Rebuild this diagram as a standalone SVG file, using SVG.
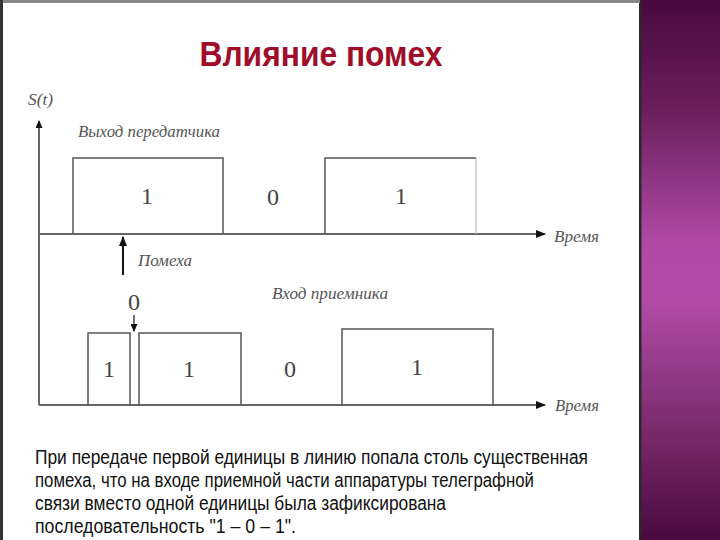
<svg xmlns="http://www.w3.org/2000/svg" width="720" height="540" viewBox="0 0 720 540">
<defs>
<linearGradient id="purp" x1="0" y1="0" x2="0" y2="1">
<stop offset="0" stop-color="#4a0a3e"/>
<stop offset="0.2" stop-color="#6a1e5c"/>
<stop offset="0.45" stop-color="#b04aa6"/>
<stop offset="0.55" stop-color="#b24ca8"/>
<stop offset="0.8" stop-color="#7a2a6c"/>
<stop offset="1" stop-color="#4a0a3e"/>
</linearGradient>
<marker id="ah" markerWidth="10" markerHeight="8" refX="9" refY="4" orient="auto" markerUnits="userSpaceOnUse">
<path d="M0,0 L10,4 L0,8 Z" fill="#111"/>
</marker>
<marker id="ahs" markerWidth="8" markerHeight="7" refX="7" refY="3.5" orient="auto" markerUnits="userSpaceOnUse">
<path d="M0,0 L8,3.5 L0,7 Z" fill="#111"/>
</marker>
</defs>
<style>
.ax{stroke:#666;stroke-width:2;fill:none}
.pl{stroke:#555;stroke-width:1.5;fill:none}
.it{font-family:"Liberation Serif",serif;font-style:italic;fill:#555;font-size:16px}
.dg{font-family:"Liberation Serif",serif;fill:#444;font-size:24px;text-anchor:middle}
.bt{font-family:"Liberation Sans",Arial,sans-serif;fill:#111;font-size:19.5px}
</style>
<rect x="0" y="0" width="720" height="540" fill="#fff"/>
<rect x="641" y="0" width="79" height="540" fill="url(#purp)"/>
<rect x="639" y="0" width="2.5" height="540" fill="#2a2a2a"/>
<rect x="0" y="0" width="640" height="3" fill="#888"/>
<rect x="0" y="0" width="3" height="540" fill="#333"/>

<text x="321" y="66" text-anchor="middle" font-family="Liberation Sans,Arial,sans-serif" font-weight="bold" font-size="35" fill="#a00d2a" textLength="243" lengthAdjust="spacingAndGlyphs">Влияние помех</text>

<g id="connectors">
<line class="ax" x1="39" y1="405" x2="39" y2="121" marker-end="url(#ahs)"/>
<line class="ax" x1="39" y1="234" x2="545" y2="234" marker-end="url(#ah)"/>
<line class="ax" x1="39" y1="405" x2="545" y2="405" marker-end="url(#ah)"/>
<line x1="123" y1="275" x2="123" y2="237" stroke="#111" stroke-width="2" marker-end="url(#ah)"/>
<line x1="134" y1="315" x2="134" y2="331" stroke="#111" stroke-width="1.2" marker-end="url(#ahs)"/>
</g>

<g id="ylabel"><text class="it" x="28" y="105" font-size="18" textLength="25" lengthAdjust="spacingAndGlyphs">S(t)</text></g>
<g id="tx-label"><text class="it" x="78" y="137" textLength="142" lengthAdjust="spacingAndGlyphs">Выход передатчика</text></g>
<g id="time1"><text class="it" x="554" y="242" textLength="45" lengthAdjust="spacingAndGlyphs">Время</text></g>
<g id="time2"><text class="it" x="555" y="411" textLength="44" lengthAdjust="spacingAndGlyphs">Время</text></g>

<g id="tx-pulse1">
<path class="pl" d="M73,234 V158 H223 V234"/>
<text class="dg" x="147" y="204">1</text>
</g>
<g id="tx-zero"><text class="dg" x="273" y="205">0</text></g>
<g id="tx-pulse2">
<path class="pl" d="M325,234 V158 H476"/>
<line x1="476" y1="158" x2="476" y2="234" stroke="#bbb" stroke-width="1.2"/>
<text class="dg" x="401" y="204">1</text>
</g>

<g id="noise"><text class="it" x="138" y="266" textLength="54" lengthAdjust="spacingAndGlyphs">Помеха</text></g>
<g id="noise-zero"><text class="dg" x="134" y="310" fill="#777">0</text></g>
<g id="rx-label"><text class="it" x="272" y="299" textLength="116" lengthAdjust="spacingAndGlyphs">Вход приемника</text></g>

<g id="rx-pulseA">
<path class="pl" d="M88,405 V333 H130 V405"/>
<text class="dg" x="109" y="377">1</text>
</g>
<g id="rx-pulseB">
<path class="pl" d="M139,405 V333 H241 V405"/>
<text class="dg" x="189" y="377">1</text>
</g>
<g id="rx-zero"><text class="dg" x="290" y="377">0</text></g>
<g id="rx-pulseC">
<path class="pl" d="M342,405 V329 H493 V405"/>
<text class="dg" x="417" y="375">1</text>
</g>

<g id="caption">
<text class="bt" x="35" y="464" textLength="553" lengthAdjust="spacingAndGlyphs">При передаче первой единицы в линию попала столь существенная</text>
<text class="bt" x="35" y="487" textLength="499" lengthAdjust="spacingAndGlyphs">помеха, что на входе приемной части аппаратуры телеграфной</text>
<text class="bt" x="35" y="510" textLength="411" lengthAdjust="spacingAndGlyphs">связи вместо одной единицы была зафиксирована</text>
<text class="bt" x="35" y="533" textLength="261" lengthAdjust="spacingAndGlyphs">последовательность "1 – 0 – 1".</text>
</g>
</svg>
